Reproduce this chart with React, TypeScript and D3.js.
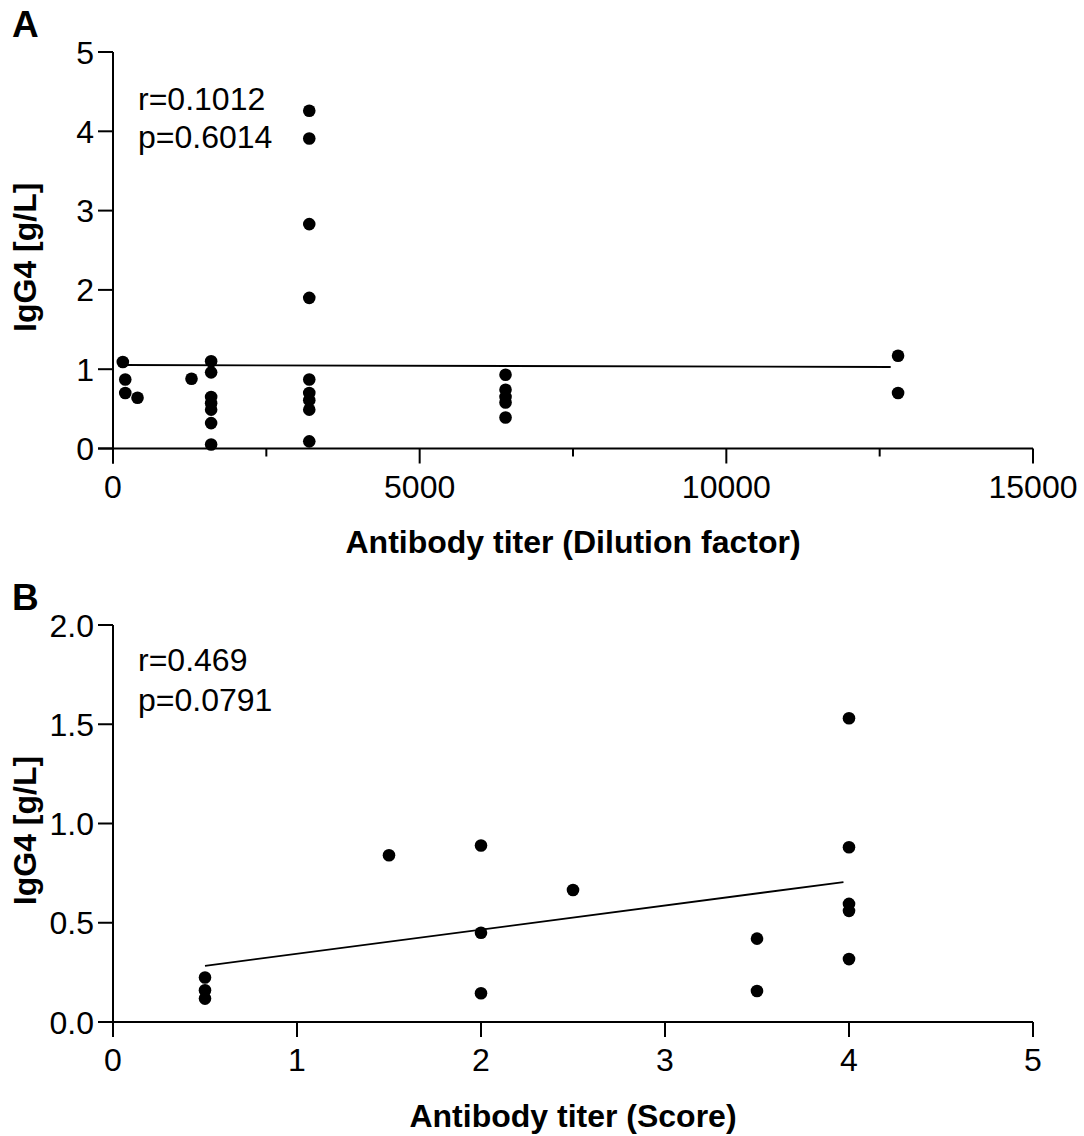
import React from "react";
import * as d3 from "d3";

// Panel A data: antibody titer (dilution factor) vs IgG4 [g/L]
const titerA = [
  160, 200, 200, 400, 1280,
  1600, 1600, 1600, 1600, 1600, 1600, 1600,
  3200, 3200, 3200, 3200, 3200, 3200, 3200, 3200, 3200,
  6400, 6400, 6400, 6400, 6400,
  12800, 12800,
];
const igg4A = [
  1.09, 0.87, 0.7, 0.64, 0.88,
  1.1, 0.96, 0.65, 0.57, 0.49, 0.32, 0.05,
  4.26, 3.91, 2.83, 1.9, 0.87, 0.7, 0.61, 0.49, 0.09,
  0.93, 0.74, 0.65, 0.58, 0.39,
  1.17, 0.7,
];
const fitXA = [160, 12680];
const fitYA = [1.053, 1.028];
const ticksXA = [0, 5000, 10000, 15000];
const minorXA = [2500, 7500, 12500];
const ticksYA = [0, 1, 2, 3, 4, 5];

// Panel B data: antibody titer (score) vs IgG4 [g/L]
const scoreB = [0.5, 0.5, 0.5, 1.5, 2, 2, 2, 2.5, 3.5, 3.5, 4, 4, 4, 4, 4];
const igg4B = [0.224, 0.16, 0.118, 0.84, 0.889, 0.45, 0.145, 0.665, 0.42, 0.156, 1.53, 0.88, 0.595, 0.56, 0.317];
const fitXB = [0.5, 3.97];
const fitYB = [0.283, 0.705];
const ticksXB = [0, 1, 2, 3, 4, 5];
const ticksYB = [0, 0.5, 1, 1.5, 2];

const FONT = "'Liberation Sans', Arial, Helvetica, sans-serif";

type PanelProps = {
  label: string;
  xs: number[];
  ys: number[];
  fitX: number[];
  fitY: number[];
  xDomain: [number, number];
  yDomain: [number, number];
  yRange: [number, number];
  xTicks: number[];
  xMinor: number[];
  yTicks: number[];
  yFmt: (v: number) => string;
  xTitle: string;
  stats: string[];
  statY: number[];
  labelY: number;
  xTitleY: number;
};

function Panel(p: PanelProps) {
  const x = d3.scaleLinear().domain(p.xDomain).range([113, 1033]);
  const y = d3.scaleLinear().domain(p.yDomain).range(p.yRange);
  const y0 = p.yRange[0];
  const line = d3
    .line<number>()
    .x((_, i) => x(p.fitX[i]))
    .y((d) => y(d));
  return (
    <g>
      <text x={12} y={p.labelY} fontFamily={FONT} fontWeight="bold" fontSize={37}>
        {p.label}
      </text>
      {/* axes */}
      <line x1={113} x2={113} y1={p.yRange[1]} y2={y0 + 15} stroke="#000" strokeWidth={2} />
      <line x1={98} x2={1033} y1={y0} y2={y0} stroke="#000" strokeWidth={2} />
      {p.yTicks.map((t) => (
        <g key={"y" + t}>
          <line x1={98} x2={113} y1={y(t)} y2={y(t)} stroke="#000" strokeWidth={2} />
          <text x={94} y={y(t)} dy="0.36em" textAnchor="end" fontFamily={FONT} fontSize={32}>
            {p.yFmt(t)}
          </text>
        </g>
      ))}
      {p.xTicks.map((t) => (
        <g key={"x" + t}>
          <line x1={x(t)} x2={x(t)} y1={y0} y2={y0 + 15} stroke="#000" strokeWidth={2} />
          <text x={x(t)} y={y0 + 49} textAnchor="middle" fontFamily={FONT} fontSize={32}>
            {t}
          </text>
        </g>
      ))}
      {p.xMinor.map((t) => (
        <line key={"m" + t} x1={x(t)} x2={x(t)} y1={y0} y2={y0 + 8} stroke="#000" strokeWidth={2} />
      ))}
      <text x={573} y={p.xTitleY} textAnchor="middle" fontFamily={FONT} fontWeight="bold" fontSize={32}>
        {p.xTitle}
      </text>
      <text
        transform={`translate(36,${(p.yRange[0] + p.yRange[1]) / 2 + 7}) rotate(-90)`}
        textAnchor="middle"
        fontFamily={FONT}
        fontWeight="bold"
        fontSize={32}
      >
        IgG4 [g/L]
      </text>
      {p.stats.map((s, i) => (
        <text key={s} x={138} y={p.statY[i]} fontFamily={FONT} fontSize={32}>
          {s}
        </text>
      ))}
      <path d={line(p.fitY) || ""} fill="none" stroke="#000" strokeWidth={1.8} />
      {p.xs.map((v, i) => (
        <circle key={i} cx={x(v)} cy={y(p.ys[i])} r={6.3} fill="#000" />
      ))}
    </g>
  );
}

export default function App() {
  return (
    <div style={{ position: "absolute", left: 0, top: 0 }}>
      <svg width={1084} height={1136} style={{ display: "block", background: "#fff" }}>
        <rect width={1084} height={1136} fill="#fff" />
        <Panel
          label="A"
          xs={titerA}
          ys={igg4A}
          fitX={fitXA}
          fitY={fitYA}
          xDomain={[0, 15000]}
          yDomain={[0, 5]}
          yRange={[448.5, 52]}
          xTicks={ticksXA}
          xMinor={minorXA}
          yTicks={ticksYA}
          yFmt={(v) => d3.format("d")(v)}
          xTitle="Antibody titer (Dilution factor)"
          stats={["r=0.1012", "p=0.6014"]}
          statY={[110, 148]}
          labelY={37}
          xTitleY={553}
        />
        <Panel
          label="B"
          xs={scoreB}
          ys={igg4B}
          fitX={fitXB}
          fitY={fitYB}
          xDomain={[0, 5]}
          yDomain={[0, 2]}
          yRange={[1022, 625]}
          xTicks={ticksXB}
          xMinor={[]}
          yTicks={ticksYB}
          yFmt={(v) => d3.format(".1f")(v)}
          xTitle="Antibody titer (Score)"
          stats={["r=0.469", "p=0.0791"]}
          statY={[671, 711]}
          labelY={610}
          xTitleY={1127}
        />
      </svg>
    </div>
  );
}
